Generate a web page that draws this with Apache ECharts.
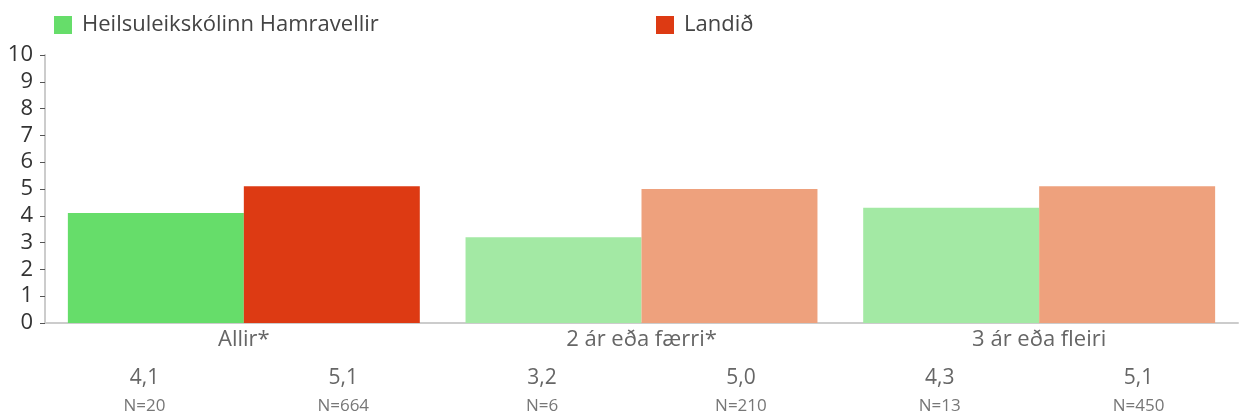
<!DOCTYPE html>
<html>
<head>
<meta charset="utf-8">
<script src="https://cdn.jsdelivr.net/npm/echarts@6/dist/echarts.min.js"></script>
<style>
  html, body { margin: 0; padding: 0; background: #fff; }
  #chart { width: 1242px; height: 416px; }
</style>
</head>
<body>
<div id="chart"></div>
<script>
const categories = ["Allir*", "2 ár eða færri*", "3 ár eða fleiri"];
const seriesNames = ["Heilsuleikskólinn Hamravellir", "Landið"];
const localValues = [4.1, 3.2, 4.3];
const nationalValues = [5.1, 5.0, 5.1];
const localN = [20, 6, 13];
const nationalN = [664, 210, 450];
const yTicks = [0, 1, 2, 3, 4, 5, 6, 7, 8, 9, 10];

const font = "'Open Sans', Lato, sans-serif";
const greenStrong = "#66dd6a";
const greenLight = "#a3e9a4";
const redStrong = "#dd3a13";
const redLight = "#eea17d";

// one slot per bar under the axis: value then N
const bottomLabels = [];
categories.forEach((c, i) => {
  bottomLabels.push(`{v|${localValues[i].toFixed(1).replace(".", ",")}}\n{n|N=${localN[i]}}`);
  bottomLabels.push(`{v|${nationalValues[i].toFixed(1).replace(".", ",")}}\n{n|N=${nationalN[i]}}`);
});

const chart = echarts.init(document.getElementById("chart"));

const legendText = { fontSize: 22, color: "#444", fontFamily: font, padding: [0, 0, 0, 5] };

chart.setOption({
  animation: false,
  textStyle: { fontFamily: font },
  legend: [
    { data: [seriesNames[0]], left: 49, top: 9, itemWidth: 18, itemHeight: 18, icon: "rect", textStyle: legendText },
    { data: [seriesNames[1]], left: 651, top: 9, itemWidth: 18, itemHeight: 18, icon: "rect", textStyle: legendText }
  ],
  grid: { left: 45, right: 4, top: 55, bottom: 93 },
  xAxis: [
    {
      type: "category",
      data: categories,
      axisLine: { lineStyle: { color: "#cccccc", width: 2 } },
      axisTick: { show: false },
      axisLabel: { fontSize: 22, color: "#666", fontFamily: font, margin: 6 }
    },
    {
      type: "category",
      position: "bottom",
      offset: 42,
      data: bottomLabels,
      axisLine: { show: false },
      axisTick: { show: false },
      axisLabel: {
        margin: 0,
        interval: 0,
        rich: {
          v: { fontSize: 21, color: "#666", fontFamily: font, lineHeight: 26 },
          n: { fontSize: 17, color: "#777", fontFamily: font, lineHeight: 30 }
        }
      }
    }
  ],
  yAxis: {
    type: "value",
    min: yTicks[0],
    max: yTicks[yTicks.length - 1],
    interval: 1,
    axisLine: { show: true, lineStyle: { color: "#cccccc", width: 2 } },
    axisTick: { show: true, length: 5, lineStyle: { color: "#555" } },
    splitLine: { show: false },
    axisLabel: { fontSize: 22, color: "#333", fontFamily: font, margin: 12 }
  },
  series: [
    {
      name: seriesNames[0],
      type: "bar",
      xAxisIndex: 0,
      barGap: "0%",
      barCategoryGap: "11.5%",
      itemStyle: { color: greenStrong },
      data: localValues.map((v, i) => ({ value: v, itemStyle: { color: i === 0 ? greenStrong : greenLight } }))
    },
    {
      name: seriesNames[1],
      type: "bar",
      xAxisIndex: 0,
      itemStyle: { color: redStrong },
      data: nationalValues.map((v, i) => ({ value: v, itemStyle: { color: i === 0 ? redStrong : redLight } }))
    }
  ]
});
</script>
</body>
</html>
